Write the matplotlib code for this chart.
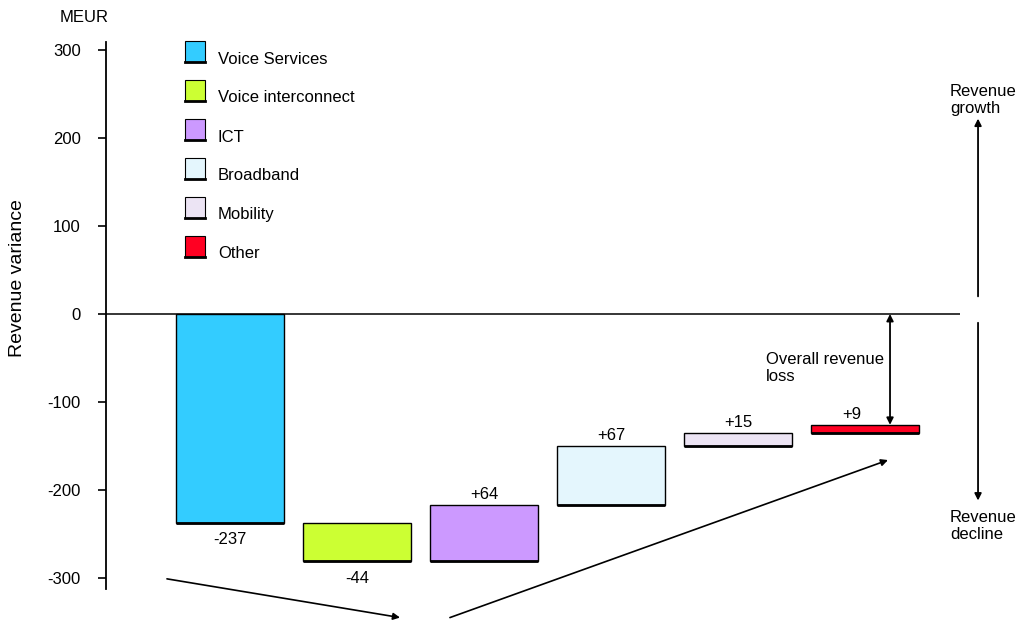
import numpy as np
import matplotlib
matplotlib.use("Agg")
import matplotlib.pyplot as plt
from matplotlib.patches import Rectangle

plt.rcParams['font.family'] = ['Liberation Sans', 'DejaVu Sans']
plt.rcParams['axes.unicode_minus'] = False

# Data
#========================================#
categories = ["Voice Services", "Voice interconnect", "ICT", "Broadband", "Mobility", "Other"]
changes = [-237, -44, 64, 67, 15, 9]
labels = ["-237", "-44", "+64", "+67", "+15", "+9"]
colors = ["#33CCFF", "#CCFF33", "#CC99FF", "#E4F6FD", "#ECE4F4", "#FF0022"]
yticks = [300, 200, 100, 0, -100, -200, -300]

# Waterfall bases
#========================================#
changes = np.array(changes)
ends = np.cumsum(changes)
starts = ends - changes
lows = np.minimum(starts, ends)
x = np.arange(len(categories))

fig = plt.figure(figsize=(10.2, 6.2), dpi=100)
ax = fig.add_axes([106 / 1020, 0.0394, (960 - 106) / 1020, 0.9084])
ax.set_ylim(-320, 320)
ax.set_xlim(-0.976, 5.748)

ax.bar(x, np.abs(changes), bottom=lows, width=0.85, color=colors,
       edgecolor="black", linewidth=1, zorder=3)
ax.hlines(lows, x - 0.425, x + 0.425, color="black", linewidth=2, zorder=4)

# value labels
for i in range(len(x)):
    if changes[i] < 0:
        ax.annotate(labels[i], (x[i], lows[i]), xytext=(0, -7), textcoords="offset points",
                    ha="center", va="top", fontsize=12)
    else:
        xi = x[i] - 0.1 if i == len(x) - 1 else x[i]
        ax.annotate(labels[i], (xi, lows[i] + abs(changes[i])), xytext=(0, 2),
                    textcoords="offset points", ha="center", va="bottom", fontsize=12)

ax.axhline(0, color="black", linewidth=1.1, zorder=2)

for s in ["top", "right", "bottom"]:
    ax.spines[s].set_visible(False)
ax.spines["left"].set_bounds(-313, 309)
ax.spines["left"].set_linewidth(1.3)
ax.set_xticks([])
ax.set_yticks(yticks)
ax.tick_params(axis="y", length=6, width=1.2, pad=12, labelsize=12)
ax.set_facecolor("none")

fig.text(84 / 1020, 1 - 17 / 620, "MEUR", ha="center", va="center", fontsize=12)
fig.text(18 / 1020, 1 - 278 / 620, "Revenue variance", rotation=90, ha="center", va="center", fontsize=14)

# Overall loss arrow
#========================================#
xa = 5.197
ax.annotate("", xy=(xa, 0), xytext=(xa, ends[-1]),
            arrowprops=dict(arrowstyle="<|-|>", color="black", lw=1.3, shrinkA=0, shrinkB=0,
                            mutation_scale=10))
ax.text(4.22, -43, "Overall revenue\nloss", ha="left", va="top", fontsize=12, linespacing=1.2)

# Trend arrows
ax.annotate("", xy=(1.339, -345), xytext=(-0.496, -301), annotation_clip=False,
            arrowprops=dict(arrowstyle="-|>", color="black", lw=1.2, shrinkA=0, shrinkB=0,
                            mutation_scale=10))
ax.annotate("", xy=(5.181, -166), xytext=(1.732, -345), annotation_clip=False,
            arrowprops=dict(arrowstyle="-|>", color="black", lw=1.2, shrinkA=0, shrinkB=0,
                            mutation_scale=10))

# Growth / decline arrows
xr = 5.89
ax.annotate("", xy=(xr, 222), xytext=(xr, 20), annotation_clip=False,
            arrowprops=dict(arrowstyle="-|>", color="black", lw=1.3, shrinkA=0, shrinkB=0,
                            mutation_scale=10))
ax.annotate("", xy=(xr, -212), xytext=(xr, -10), annotation_clip=False,
            arrowprops=dict(arrowstyle="-|>", color="black", lw=1.3, shrinkA=0, shrinkB=0,
                            mutation_scale=10))
fig.text(950 / 1020, 1 - 100 / 620, "Revenue\ngrowth", ha="left", va="center", fontsize=12, linespacing=1.1)
fig.text(950 / 1020, 1 - 526 / 620, "Revenue\ndecline", ha="left", va="center", fontsize=12, linespacing=1.1)

# Legend drawn by hand
#========================================#
lg = fig.add_axes([0, 0, 1, 1])
lg.set_xlim(0, 1020)
lg.set_ylim(620, 0)
lg.axis("off")
for i, (name, c) in enumerate(zip(categories, colors)):
    y0 = 41 + 39 * i
    lg.add_patch(Rectangle((185, y0), 20, 21, facecolor=c, edgecolor="black", linewidth=0.8))
    lg.plot([185, 205], [y0 + 21, y0 + 21], color="black", linewidth=2)
    lg.text(218, y0 + 18, name, ha="left", va="center", fontsize=12)

fig.savefig("out.png", dpi=100)
